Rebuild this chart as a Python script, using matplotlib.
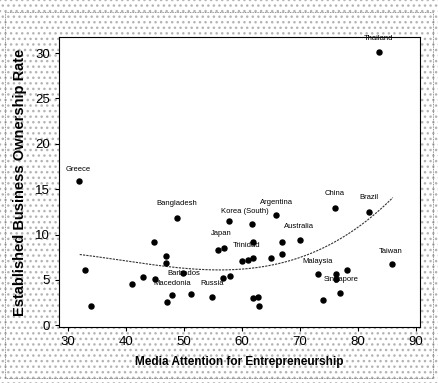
import numpy as np
import matplotlib.pyplot as plt
from matplotlib.patches import Rectangle

# media attention (x) vs established business ownership rate (y)
media = [31.9, 32.9, 34.0, 41.0, 42.9, 44.8, 45.0, 46.9, 46.9, 47.9,
         47.1, 48.8, 49.8, 51.2, 54.8, 55.9, 56.9, 56.7, 57.9, 57.8,
         61.7, 65.9, 61.9, 60.0, 61.0, 61.9, 65.0, 66.9, 66.9, 70.0,
         61.9, 62.8, 62.9, 73.1, 74.0, 76.2, 76.2, 78.1, 76.9, 76.0,
         81.9, 85.9, 83.6]
ownership = [15.9, 6.1, 2.1, 4.5, 5.3, 9.2, 5.1, 7.6, 6.9, 3.3,
             2.6, 11.8, 5.8, 3.5, 3.1, 8.3, 8.5, 5.2, 5.4, 11.5,
             11.2, 12.1, 9.2, 7.1, 7.2, 7.4, 7.4, 9.2, 7.9, 9.4,
             3.0, 3.1, 2.1, 5.6, 2.8, 5.6, 5.1, 6.1, 3.6, 12.9,
             12.5, 6.7, 30.1]

# country name, index of its point, text offset in points
labels = [("Greece", 0, (-1, 6)), ("Bangladesh", 11, (0, 8)),
          ("Barbados", 12, (1, -3)), ("Macedonia", 9, (0, 6)),
          ("Russia", 14, (0, 7)), ("Japan", 16, (-2, 8)),
          ("Korea (South)", 20, (-5, 6)), ("Trinidad", 24, (-1, 8)),
          ("Argentina", 21, (0, 7)), ("Australia", 29, (-1, 7)),
          ("China", 39, (0, 8)), ("Brazil", 40, (0, 8)),
          ("Malaysia", 33, (0, 7)), ("Singapore", 38, (1, 7)),
          ("Taiwan", 41, (-1, 7)), ("Thailand", 42, (0, 7))]

plt.rcParams['font.family'] = ['Liberation Sans Narrow', 'Liberation Sans', 'DejaVu Sans']

fig = plt.figure(figsize=(4.38, 3.83), dpi=100)
fig.patch.set_facecolor('white')
bg = Rectangle((0, 0), 1, 1, transform=fig.transFigure, facecolor='white',
               edgecolor='#b4b4b4', hatch='...', linewidth=0, zorder=-10)
fig.patches.append(bg)
border = Rectangle((5 / 438, 5 / 383), 428 / 438, 366 / 383, transform=fig.transFigure,
                   facecolor='none', edgecolor='#707070', linewidth=0.6,
                   linestyle=(0, (1, 1)), zorder=-5)
fig.patches.append(border)

ax = fig.add_axes([0.135, 0.146, 0.824, 0.757])
ax.set_facecolor('white')

ax.scatter(media, ownership, s=13, color='black', zorder=3)

# cubic trend
x = np.array(media)
y = np.array(ownership)
coef = np.polyfit(x, y, 3)
xs = np.linspace(32, 86, 200)
ax.plot(xs, np.polyval(coef, xs), color='#333333', linewidth=0.8,
        linestyle=(0, (2, 1)), zorder=2)

for name, i, off in labels:
    ax.annotate(name, (media[i], ownership[i]), xytext=off, textcoords='offset points',
                ha='center', va='bottom', fontsize=5.5, color='black')

ax.set_xlim(28.45, 90.7)
ax.set_ylim(-0.2, 31.75)
ax.set_xticks([30, 40, 50, 60, 70, 80, 90])
ax.set_yticks([0, 5, 10, 15, 20, 25, 30])
ax.tick_params(labelsize=9.5, length=3, width=0.8, direction='out')
for s in ax.spines.values():
    s.set_linewidth(0.8)

ax.set_xlabel("Media Attention for Entrepreneurship", fontsize=8.5, fontweight='bold', labelpad=6)
ax.set_ylabel("Established Business Ownership Rate", fontsize=10.5, fontweight='bold', labelpad=6)

fig.savefig("out.png", dpi=100)
